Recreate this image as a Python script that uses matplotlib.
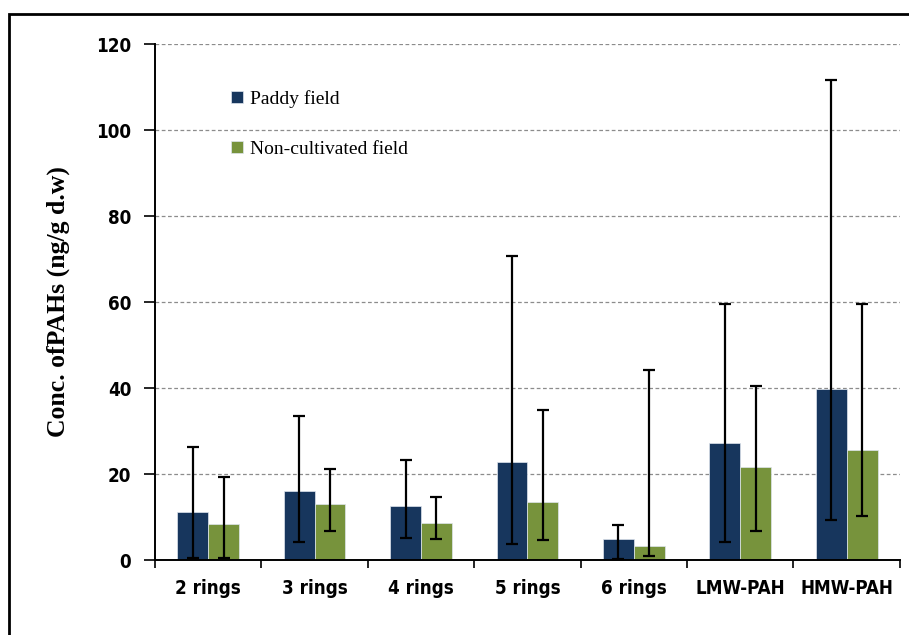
import matplotlib
matplotlib.use("Agg")
import matplotlib.pyplot as plt
import numpy as np
from matplotlib.patches import Rectangle
from matplotlib.font_manager import FontProperties

categories = ["2 rings", "3 rings", "4 rings", "5 rings", "6 rings", "LMW-PAH", "HMW-PAH"]

paddy = [11.2, 16.0, 12.6, 22.9, 4.8, 27.3, 39.8]
paddy_lo = [0.4, 4.2, 5.1, 3.8, 0.2, 4.2, 9.4]
paddy_hi = [26.3, 33.6, 23.2, 70.7, 8.1, 59.5, 111.6]

noncult = [8.3, 13.0, 8.7, 13.4, 3.2, 21.6, 25.5]
noncult_lo = [0.4, 6.8, 5.0, 4.7, 0.9, 6.8, 10.2]
noncult_hi = [19.3, 21.1, 14.6, 34.9, 44.2, 40.5, 59.5]

yticks = [0, 20, 40, 60, 80, 100, 120]

navy = "#17365d"
green = "#77933c"

fig = plt.figure(figsize=(9.09, 6.35), dpi=100)
ax = fig.add_axes([0.1705, 0.1181, 0.8195, 0.8126])

x = np.arange(len(categories))
w = 0.29

def bars(offset, vals, lo, hi, color, label):
    vals = np.array(vals)
    err = np.vstack([vals - np.array(lo), np.array(hi) - vals])
    ax.bar(x + offset, vals, width=w, color=color, label=label, zorder=2,
           edgecolor="#dfe6ee", linewidth=0.5)
    ax.errorbar(x + offset, vals, yerr=err, fmt="none", ecolor="black",
                elinewidth=1.6, capsize=4.5, capthick=1.6, zorder=3)

bars(-w / 2, paddy, paddy_lo, paddy_hi, navy, "Paddy field")
bars(w / 2, noncult, noncult_lo, noncult_hi, green, "Non-cultivated field")

ax.set_xlim(-0.5, len(categories) - 0.5)
ax.set_ylim(0, 120)
ax.set_yticks(yticks)
ax.set_xticks(np.arange(-0.5, len(categories)), minor=False)
ax.set_xticklabels([])
ax.set_xticks(x, minor=True)
ax.set_xticklabels(categories, minor=True)

tick_fp = FontProperties(family=["DejaVu Sans"], weight="bold", stretch="condensed", size=13.5)
for lab in ax.get_yticklabels():
    lab.set_fontproperties(tick_fp)
for lab in ax.get_xticklabels(minor=True):
    lab.set_fontproperties(tick_fp)

ax.tick_params(axis="y", direction="out", length=8, width=1.2, pad=9)
ax.tick_params(axis="x", which="major", direction="out", length=6, width=1.2)
ax.tick_params(axis="x", which="minor", length=0, pad=14)

ax.yaxis.grid(True, linestyle=(0, (3, 2)), color="#8c8c8c", linewidth=0.9, zorder=0)
ax.set_axisbelow(True)
for s in ["top", "right"]:
    ax.spines[s].set_visible(False)
for s in ["left", "bottom"]:
    ax.spines[s].set_linewidth(1.4)

ax.set_ylabel("Conc. ofPAHs (ng/g d.w)", family=["Liberation Serif", "DejaVu Serif"],
              weight="bold", size=18.5, labelpad=19)

leg = ax.legend(loc="upper left", bbox_to_anchor=(0.079, 0.945), frameon=False,
                prop=dict(family=["Liberation Serif", "DejaVu Serif"], size=14),
                handlelength=0.6, handleheight=0.6, handletextpad=0.35, labelspacing=1.7)

fig.patches.append(Rectangle((8.7 / 909, -0.05), 1.2, 1 - 14 / 635 + 0.05,
                             transform=fig.transFigure, fill=False,
                             edgecolor="black", linewidth=2, clip_on=False))

fig.savefig("out.png", dpi=100, facecolor="white")
